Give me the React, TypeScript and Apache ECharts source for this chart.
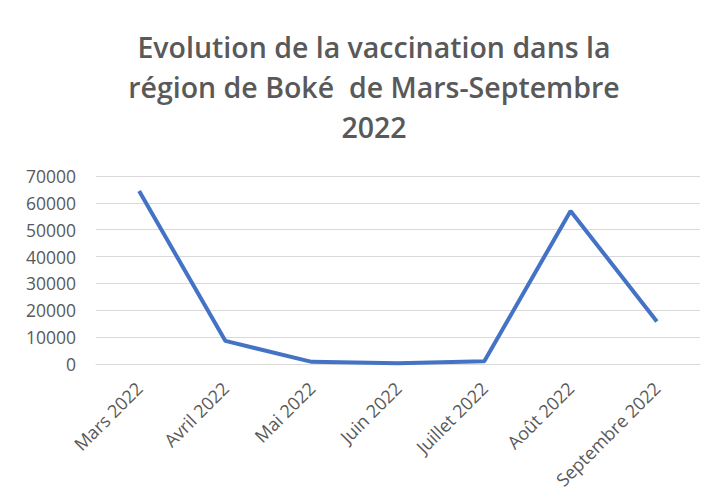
import React, { useEffect, useRef } from "react";
import * as echarts from "echarts";

const categories = ["Mars 2022", "Avril 2022", "Mai 2022", "Juin 2022", "Juillet 2022", "Août 2022", "Septembre 2022"];
const values = [64400, 8600, 800, 300, 1000, 57000, 15800];
const titleText = "Evolution de la vaccination dans la\nrégion de Boké  de Mars-Septembre\n2022";

export default function App() {
  const ref = useRef<HTMLDivElement>(null);
  useEffect(() => {
    const chart = echarts.init(ref.current!, null, { renderer: "svg" });
    chart.setOption({
      animation: false,
      backgroundColor: "#ffffff",
      title: {
        text: titleText,
        left: 369,
        textAlign: "center",
        top: 22,
        textStyle: {
          fontFamily: "Open Sans",
          fontSize: 28.5,
          fontWeight: 600,
          color: "#595959",
          lineHeight: 40,
        },
      },
      grid: { left: 96, right: 17, top: 176, bottom: 138 },
      xAxis: {
        type: "category",
        data: categories,
        boundaryGap: true,
        axisLine: { lineStyle: { color: "#d9d9d9" } },
        axisTick: { show: false },
        axisLabel: {
          rotate: 45,
          interval: 0,
          fontFamily: "Open Sans",
          fontSize: 18,
          color: "#595959",
          margin: 21,
        },
      },
      yAxis: {
        type: "value",
        min: 0,
        max: 70000,
        interval: 10000,
        axisLine: { show: false },
        axisTick: { show: false },
        splitLine: { lineStyle: { color: "#d9d9d9", width: 1 } },
        axisLabel: {
          fontFamily: "Open Sans",
          fontSize: 17.5,
          color: "#595959",
          margin: 20,
          formatter: (v: number) => String(v),
        },
      },
      series: [
        {
          type: "line",
          data: values,
          showSymbol: false,
          lineStyle: { color: "#4472C4", width: 4 },
          itemStyle: { color: "#4472C4" },
        },
      ],
    });
    return () => chart.dispose();
  }, []);
  return (
    <div style={{ position: "relative", width: 717, height: 502, margin: -8, background: "#fff" }}>
      <div style={{ position: "absolute", left: 6, top: 12, width: 720, height: 500, border: "1px solid #d9d9d9", boxSizing: "border-box" }} />
      <div ref={ref} style={{ position: "absolute", left: 0, top: 0, width: 717, height: 502 }} />
    </div>
  );
}
